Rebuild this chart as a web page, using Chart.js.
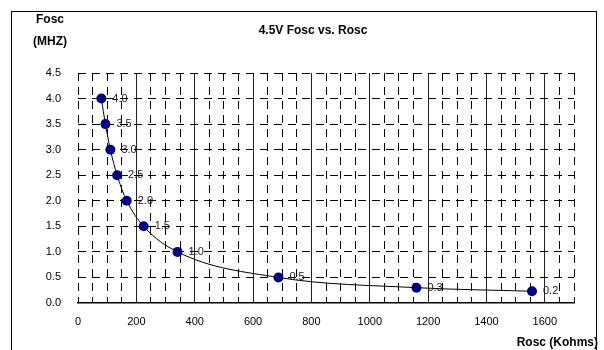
<!DOCTYPE html>
<html>
<head>
<meta charset="utf-8">
<script src="https://cdn.jsdelivr.net/npm/chart.js@4/dist/chart.umd.min.js"></script>
<style>
  html, body { margin: 0; padding: 0; background: #fff; }
  #wrap { position: relative; width: 604px; height: 350px; }
  #frame { position: absolute; left: 11px; top: 11px; width: 586px; height: 350px; border: 1.5px solid #000; box-sizing: border-box; }
  canvas { position: absolute; left: 0; top: 0; }
</style>
</head>
<body>
<div id="wrap">
  <div id="frame"></div>
  <canvas id="chart" width="604" height="350"></canvas>
</div>
<script>
// Rosc (Kohms) vs Fosc (MHz)
const rosc = [80, 94, 111, 134, 167, 225, 341, 687, 1160, 1556];
const fosc = [4.0, 3.5, 3.0, 2.5, 2.0, 1.5, 1.0, 0.5, 0.3, 0.23];
const pointLabels = ['4.0', '3.5', '3.0', '2.5', '2.0', '1.5', '1.0', '0.5', '0.3', '0.2'];

const chartTitle = '4.5V Fosc vs. Rosc';
const yTitle = ['Fosc', '(MHZ)'];
const xTitle = 'Rosc (Kohms)';

const FONT = 'Liberation Sans, Arial, sans-serif';

const textPlugin = {
  id: 'texts',
  afterDatasetsDraw(chart) {
    const ctx = chart.ctx;
    const meta = chart.getDatasetMeta(0);
    ctx.save();
    ctx.font = '11px ' + FONT;
    ctx.fillStyle = '#222';
    ctx.textAlign = 'left';
    ctx.textBaseline = 'middle';
    meta.data.forEach((pt, i) => {
      ctx.fillText(pointLabels[i], pt.x + 11, pt.y);
    });
    ctx.restore();
  },
  afterDraw(chart) {
    const ctx = chart.ctx;
    ctx.save();
    ctx.fillStyle = '#000';
    ctx.font = 'bold 12px ' + FONT;
    ctx.textAlign = 'center';
    ctx.textBaseline = 'middle';
    ctx.fillText(chartTitle, 313, 31);
    ctx.fillText(yTitle[0], 50, 20);
    ctx.fillText(yTitle[1], 50, 42);
    ctx.textAlign = 'right';
    ctx.fillText(xTitle, 598, 343);
    ctx.restore();
  }
};

new Chart(document.getElementById('chart'), {
  type: 'scatter',
  data: {
    datasets: [{
      data: rosc.map((x, i) => ({ x: x, y: fosc[i] })),
      showLine: true,
      borderColor: '#000',
      borderWidth: 1,
      cubicInterpolationMode: 'monotone',
      pointRadius: 5,
      pointHoverRadius: 5,
      pointBackgroundColor: '#000080',
      pointBorderColor: '#000080',
      pointBorderWidth: 0
    }]
  },
  options: {
    responsive: false,
    animation: false,
    events: [],
    layout: { padding: { left: 0, top: 73, right: 30, bottom: 0 } },
    plugins: { legend: { display: false }, tooltip: { enabled: false } },
    scales: {
      x: {
        type: 'linear',
        position: 'bottom',
        min: 0, max: 1700,
        afterFit(s) { s.height = 47; },
        ticks: {
          stepSize: 200,
          includeBounds: false,
          autoSkip: false,
          maxRotation: 0,
          padding: 12,
          color: '#000',
          font: { family: FONT, size: 11 },
          callback: v => (v % 200 === 0 ? String(v) : '')
        },
        grid: {
          drawTicks: false,
          lineWidth: 1,
          color: ctx => (ctx.tick && ctx.tick.value > 0 && ctx.tick.value % 200 === 0 ? '#222' : 'rgba(0,0,0,0)')
        },
        border: { display: true, color: '#000', width: 1.5 }
      },
      x2: {
        type: 'linear',
        position: 'top',
        min: 0, max: 1700,
        afterFit(s) { s.height = 0; },
        ticks: { display: false, stepSize: 50, autoSkip: false },
        grid: {
          drawTicks: false,
          lineWidth: 1,
          color: ctx => (ctx.tick && ctx.tick.value % 200 === 0 && ctx.tick.value > 0 ? 'rgba(0,0,0,0)' : '#000')
        },
        border: { display: false, dash: [8, 6] }
      },
      y: {
        min: 0, max: 4.5,
        afterFit(s) { s.width = 78; },
        ticks: {
          stepSize: 0.5,
          padding: 17,
          color: '#000',
          font: { family: FONT, size: 11 },
          callback: v => v.toFixed(1)
        },
        grid: {
          drawTicks: false,
          lineWidth: 1,
          color: ctx => (ctx.tick && ctx.tick.value > 0 ? '#000' : 'rgba(0,0,0,0)')
        },
        border: { display: false, dash: [8, 6] }
      }
    }
  },
  plugins: [textPlugin]
});
</script>
</body>
</html>
